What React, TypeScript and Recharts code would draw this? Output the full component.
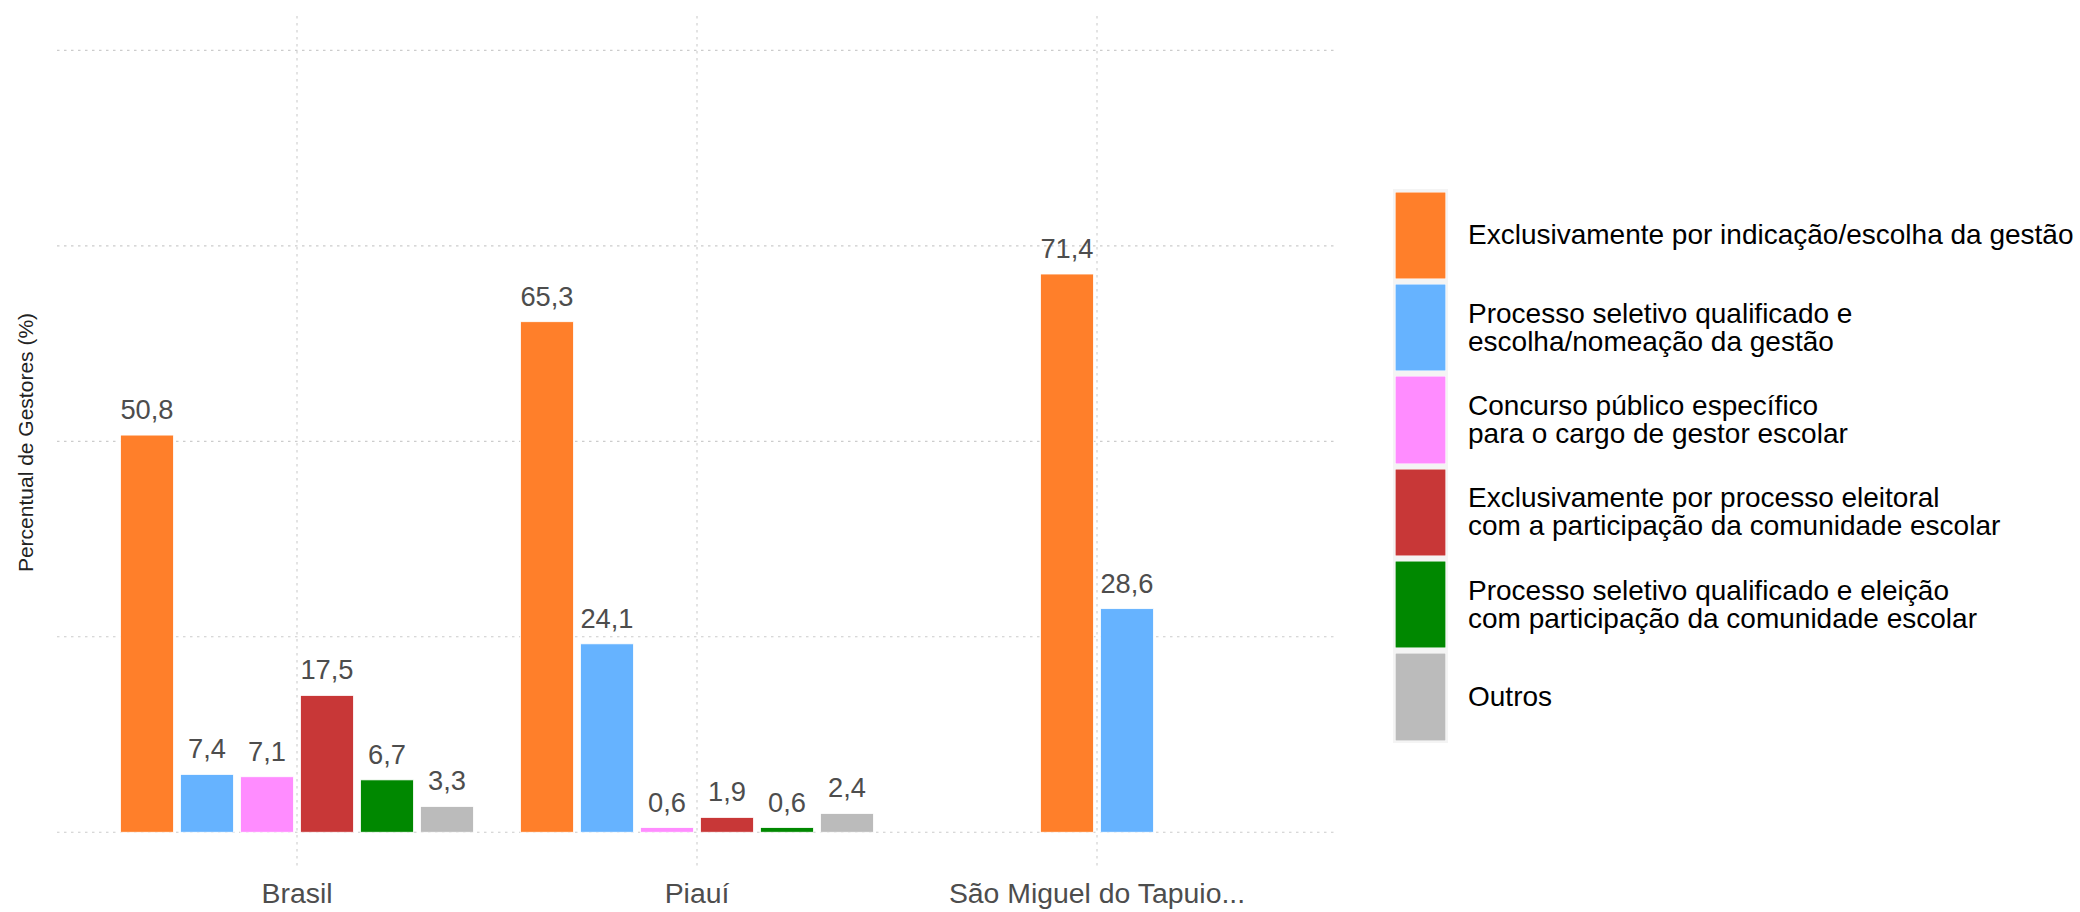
import React from "react";
import { BarChart, Bar, XAxis, YAxis, CartesianGrid, Legend } from "recharts";

const FONT = "'Liberation Sans', Arial, Helvetica, sans-serif";

// categories on the x axis
const CATEGORIES = ["Brasil", "Piauí", "São Miguel do Tapuio..."];

// percent of managers per selection method (null = not present)
const INDICACAO = [50.8, 65.3, 71.4];
const SELETIVO_NOMEACAO = [7.4, 24.1, 28.6];
const CONCURSO = [7.1, 0.6, null];
const ELEITORAL = [17.5, 1.9, null];
const SELETIVO_ELEICAO = [6.7, 0.6, null];
const OUTROS = [3.3, 2.4, null];

const SERIES_KEYS = [
  "indicacao",
  "seletivoNomeacao",
  "concurso",
  "eleitoral",
  "seletivoEleicao",
  "outros",
];
const SERIES_VALUES = [
  INDICACAO,
  SELETIVO_NOMEACAO,
  CONCURSO,
  ELEITORAL,
  SELETIVO_ELEICAO,
  OUTROS,
];
const SERIES_NAMES = [
  "Exclusivamente por indicação/escolha da gestão",
  "Processo seletivo qualificado e\nescolha/nomeação da gestão",
  "Concurso público específico\npara o cargo de gestor escolar",
  "Exclusivamente por processo eleitoral\ncom a participação da comunidade escolar",
  "Processo seletivo qualificado e eleição\ncom participação da comunidade escolar",
  "Outros",
];
const SERIES_COLORS = [
  "#FF7F2A",
  "#66B3FF",
  "#FF8CFF",
  "#C83737",
  "#008800",
  "#BBBBBB",
];

const Y_TICKS = [0, 25, 50, 75, 100];

const BAR_GAP = 7;

const data = CATEGORIES.map((category, i) => {
  const row: any = { category };
  SERIES_KEYS.forEach((k, s) => {
    row[k] = SERIES_VALUES[s][i];
  });
  return row;
});

const fmt = (v: number) => v.toFixed(1).replace(".", ",");

const applyScale = (scale: any, v: any) => {
  if (!scale) return NaN;
  if (typeof scale === "function") return scale(v);
  if (typeof scale.map === "function") return scale.map(v);
  return NaN;
};

const bandOf = (scale: any) => {
  if (!scale) return 0;
  if (typeof scale.bandwidth === "function") return scale.bandwidth();
  return 0;
};

// bars of a category are centred like ggplot's dodge2 when some series are missing
const makeShape = (seriesIdx: number) => (props: any) => {
  const { x, y, width, height, payload, fill } = props;
  const key = SERIES_KEYS[seriesIdx];
  const value = payload ? payload[key] : null;
  if (value == null || !isFinite(x) || !isFinite(y)) return <g />;
  const present = SERIES_KEYS.filter((k) => payload[k] != null);
  const j = present.indexOf(key);
  const pitch = width + BAR_GAP;
  const shift = ((SERIES_KEYS.length - present.length) / 2 + (j - seriesIdx)) * pitch;
  const bx = x + shift;
  return (
    <g>
      <rect
        x={bx}
        y={y}
        width={width}
        height={height}
        fill={fill}
        stroke="#ffffff"
        strokeWidth={0.8}
      />
      <text
        x={bx + width / 2}
        y={y - 16}
        textAnchor="middle"
        fontSize={27.3}
        fill="#4d4d4d"
        fontFamily={FONT}
      >
        {fmt(value)}
      </text>
    </g>
  );
};

const NoTick = () => <g />;

const YLabel = (props: any) => {
  const vb = props.viewBox || { x: 0, y: 0, width: 57, height: 0 };
  const cx = vb.x + vb.width / 2 - 3;
  const cy = vb.y + vb.height / 2;
  return (
    <text
      x={cx}
      y={cy}
      transform={`rotate(-90 ${cx} ${cy})`}
      textAnchor="middle"
      dominantBaseline="central"
      fontSize={21}
      fill="#222"
      fontFamily={FONT}
    >
      Percentual de Gestores (%)
    </text>
  );
};

function LegendBlock() {
  return (
    <div style={{ fontFamily: FONT }}>
      {SERIES_NAMES.map((name, i) => (
        <div
          key={name}
          style={{ display: "flex", alignItems: "center", height: 92.4 }}
        >
          <div
            style={{
              width: 55,
              height: 92.4,
              flex: "none",
              background: "#f4f4f4",
              boxSizing: "border-box",
              padding: "2.5px 2px",
            }}
          >
            <div
              style={{
                width: "100%",
                height: "100%",
                background: SERIES_COLORS[i],
                boxShadow: "inset 0 0 0 0.6px #ffffff",
              }}
            />
          </div>
          <div
            style={{
              marginLeft: 20,
              fontSize: 28,
              lineHeight: "28px",
              color: "#000",
              whiteSpace: "pre",
            }}
          >
            {name}
          </div>
        </div>
      ))}
    </div>
  );
}

export default function App() {
  return (
    <div style={{ position: "absolute", left: 0, top: 0, background: "#fff" }}>
      <BarChart
        width={2080}
        height={912}
        data={data}
        margin={{ top: 16, right: 743, bottom: 0, left: 0 }}
        barCategoryGap={23.5}
        barGap={BAR_GAP}
      >
        <CartesianGrid
          stroke="#cccccc"
          strokeDasharray="2.5 4.5"
          strokeWidth={1.1}
          horizontalCoordinatesGenerator={({ yAxis }: any) =>
            Y_TICKS.map((t) => applyScale(yAxis?.scale, t))
          }
          verticalCoordinatesGenerator={({ xAxis }: any) =>
            CATEGORIES.map(
              (c) => applyScale(xAxis?.scale, c) + bandOf(xAxis?.scale) / 2
            )
          }
        />
        <XAxis
          dataKey="category"
          axisLine={false}
          tickLine={false}
          padding={{ left: 40, right: 40 }}
          height={43}
          tickMargin={8}
          interval={0}
          tick={{ fontSize: 28.4, fill: "#4d4d4d", fontFamily: FONT }}
        />
        <YAxis
          width={57}
          domain={[-4.7, 104.4]}
          ticks={Y_TICKS}
          tick={NoTick}
          axisLine={false}
          tickLine={false}
          label={<YLabel />}
        />
        <Legend
          layout="horizontal"
          verticalAlign="middle"
          align="center"
          wrapperStyle={{ left: 1393, top: 189, width: 687, height: 560 }}
          content={() => <LegendBlock />}
        />
        {SERIES_KEYS.map((k, i) => (
          <Bar
            key={k}
            dataKey={k}
            name={SERIES_NAMES[i]}
            fill={SERIES_COLORS[i]}
            isAnimationActive={false}
            shape={makeShape(i)}
          />
        ))}
      </BarChart>
    </div>
  );
}
